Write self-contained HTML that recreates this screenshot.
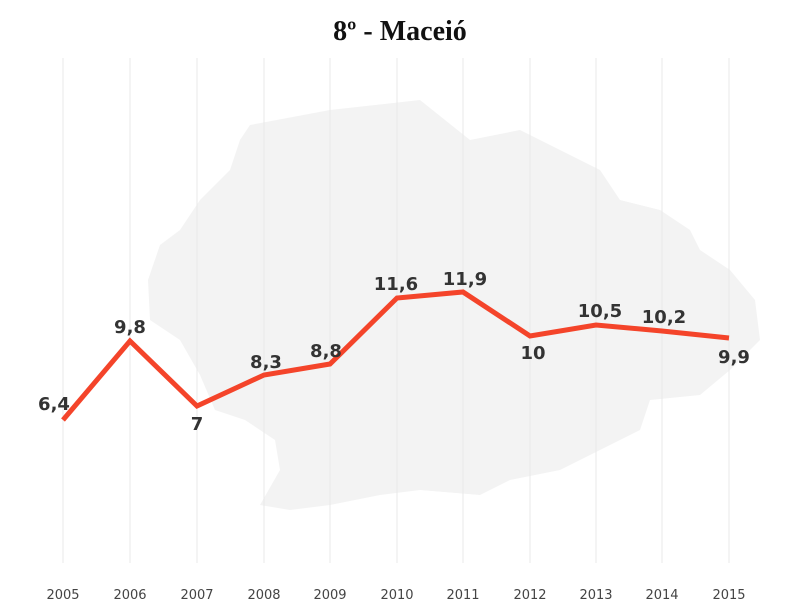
<!DOCTYPE html>
<html><head><meta charset="utf-8"><style>
body{margin:0;background:#fff;}
svg{display:block;font-family:"DejaVu Sans","Liberation Sans",sans-serif;}
</style></head><body>
<svg width="800" height="600" viewBox="0 0 800 600">
<rect width="800" height="600" fill="#fff"/>
<path d="M250,125 L330,110 L420,100 L470,140 L520,130 L560,150 L600,170 L620,200 L660,210 L690,230 L700,250 L730,270 L755,300 L760,340 L730,370 L700,395 L650,400 L640,430 L600,450 L560,470 L510,480 L480,495 L420,490 L380,495 L330,505 L290,510 L260,505 L280,470 L275,440 L245,420 L215,410 L200,375 L180,340 L150,320 L148,280 L160,245 L180,230 L200,200 L230,170 L240,140 Z" fill="#f3f3f3"/>
<g stroke="#e8e8e8" stroke-width="1">
<line x1="63" y1="58" x2="63" y2="563"/><line x1="130" y1="58" x2="130" y2="563"/><line x1="197" y1="58" x2="197" y2="563"/><line x1="264" y1="58" x2="264" y2="563"/><line x1="330" y1="58" x2="330" y2="563"/><line x1="397" y1="58" x2="397" y2="563"/><line x1="463" y1="58" x2="463" y2="563"/><line x1="530" y1="58" x2="530" y2="563"/><line x1="596" y1="58" x2="596" y2="563"/><line x1="662" y1="58" x2="662" y2="563"/><line x1="729" y1="58" x2="729" y2="563"/>
</g>
<text x="400" y="40" text-anchor="middle" font-family="'Liberation Serif',serif" font-weight="bold" font-size="28" fill="#111">8º - Maceió</text>
<polyline points="63,420 130,341 197,406 264,375 330,364 397,298 463,292 530,336 596,325 662,331 729,338" fill="none" stroke="#f4442a" stroke-width="5" stroke-linejoin="miter" stroke-linecap="butt"/>
<g font-weight="bold" font-size="18" fill="#333" text-anchor="middle">
<text x="54" y="410">6,4</text><text x="130" y="333">9,8</text><text x="197" y="430">7</text>
<text x="266" y="368">8,3</text><text x="326" y="357">8,8</text><text x="396" y="290">11,6</text>
<text x="465" y="285">11,9</text><text x="533" y="359">10</text><text x="600" y="317">10,5</text>
<text x="664" y="323">10,2</text><text x="734" y="363">9,9</text>
</g>
<g font-size="13" fill="#444" text-anchor="middle">
<text x="63" y="599">2005</text><text x="130" y="599">2006</text><text x="197" y="599">2007</text><text x="264" y="599">2008</text><text x="330" y="599">2009</text><text x="397" y="599">2010</text><text x="463" y="599">2011</text><text x="530" y="599">2012</text><text x="596" y="599">2013</text><text x="662" y="599">2014</text><text x="729" y="599">2015</text>
</g>
</svg>
</body></html>
